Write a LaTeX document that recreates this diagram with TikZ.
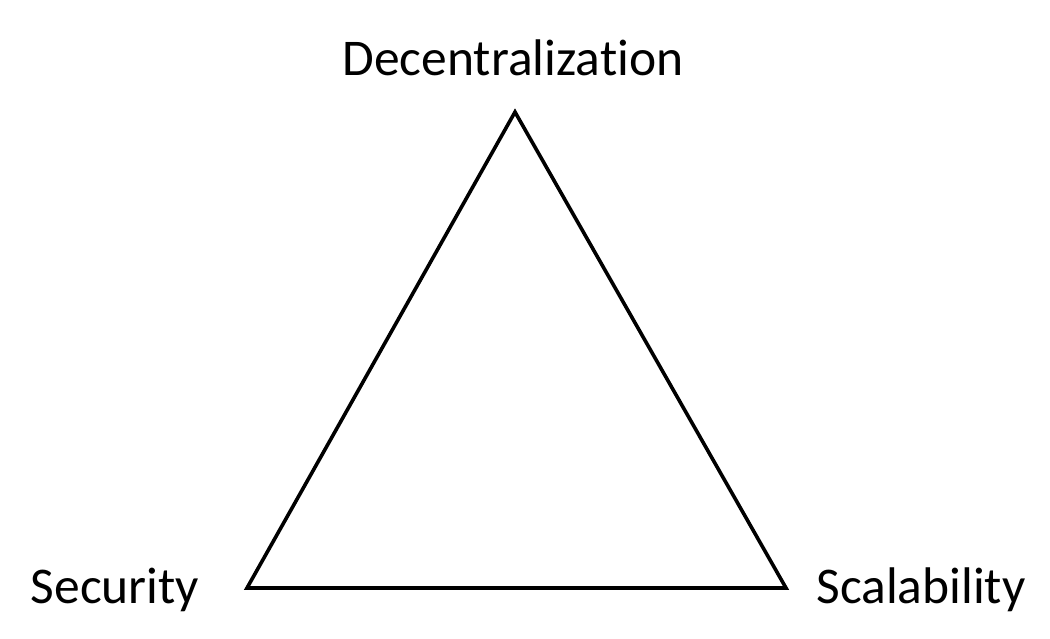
\documentclass[tikz,border=0pt]{standalone}
\usepackage{fontspec}
\setmainfont{Carlito}[RawFeature=-liga]
\begin{document}
\begin{tikzpicture}[x=1pt,y=-1pt,
  edge/.style={line width=3.6pt,line join=miter,black},
  corner/.style={font=\fontsize{51.5}{60}\selectfont,anchor=base,inner sep=0pt}]
\useasboundingbox (0,0) rectangle (1050,638);
% triangle corners
\coordinate (top) at (515,112);
\coordinate (left) at (247,588);
\coordinate (right) at (786,588);
\draw[edge] (top) -- (left) -- (right) -- cycle;
% corner labels
\node[corner] (dec) at (513,75) {Decentralization};
\node[corner] (sec) at (115,603) {Security};
\node[corner] (sca) at (921,603) {Scalability};
\end{tikzpicture}
\end{document}
